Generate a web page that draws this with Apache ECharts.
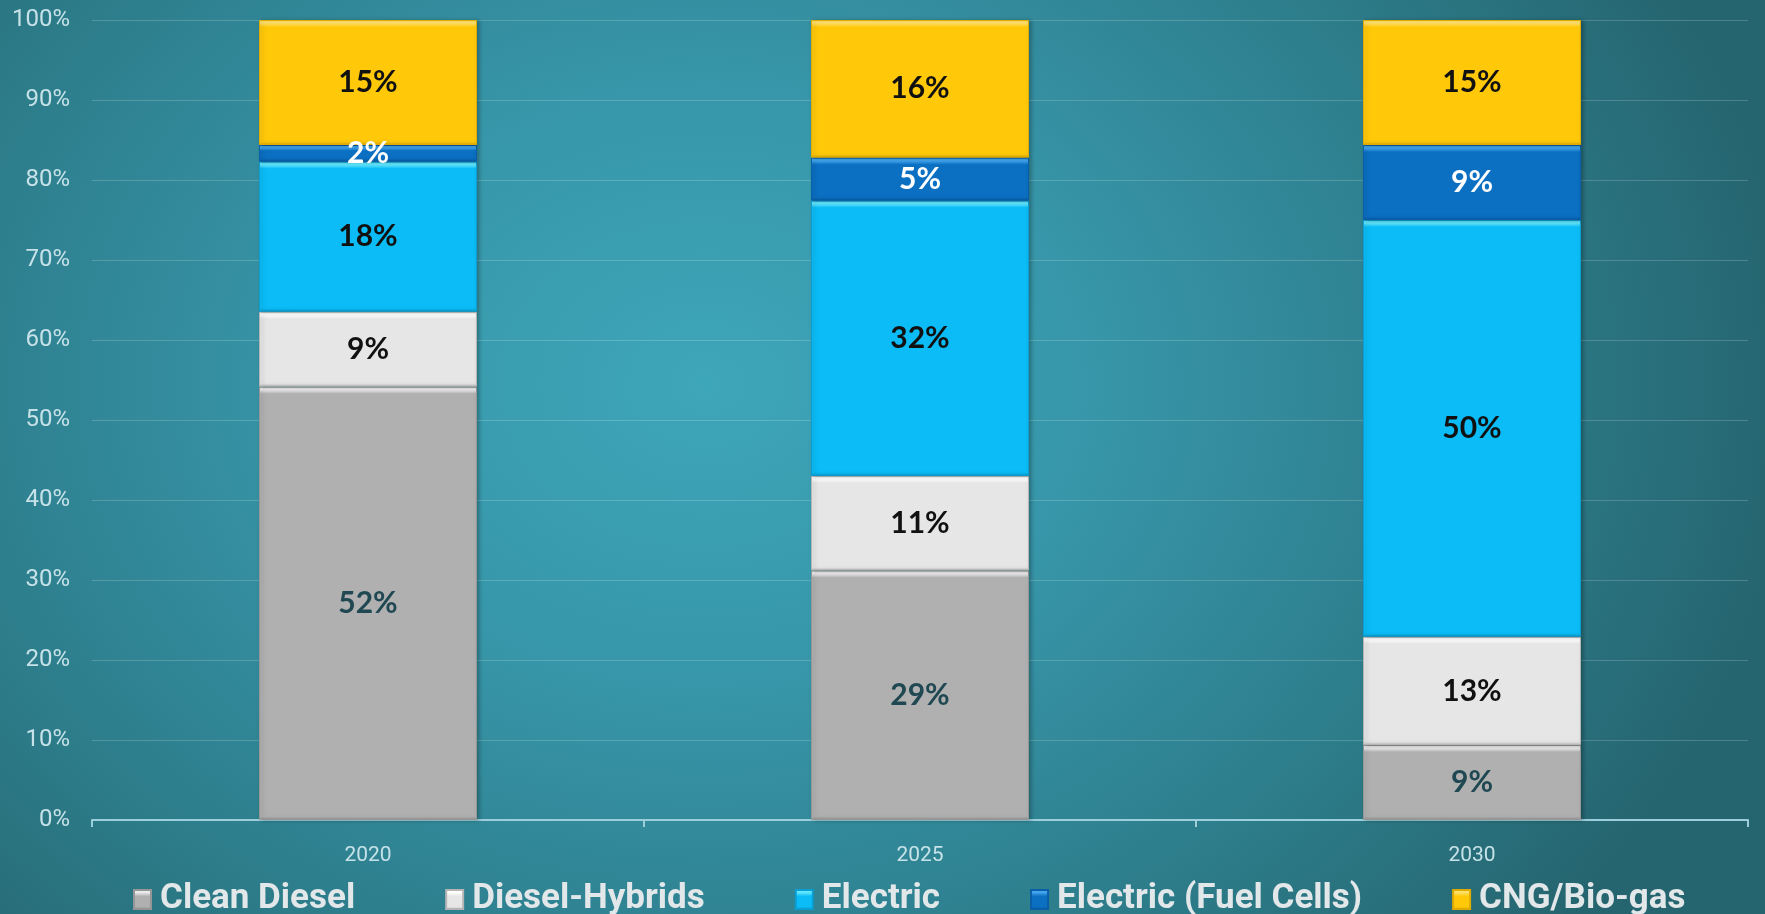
<!DOCTYPE html>
<html>
<head>
<meta charset="utf-8">
<script src="https://cdn.jsdelivr.net/npm/echarts@6/dist/echarts.min.js"></script>
<style>
  html, body { margin: 0; padding: 0; }
  body {
    width: 1765px; height: 914px; overflow: hidden;
    background: radial-gradient(ellipse 62% 95% at 40% 42%, #3ea6b9 0%, #3796a9 35%, #2d7d8b 70%, #25656f 100%);
  }
  #chart { width: 1765px; height: 914px; }
</style>
</head>
<body>
<div id="chart"></div>
<script>
// ---- data (raw values as labelled; bars are shown as 100% stacked) ----
const categories = ['2020', '2025', '2030'];
const seriesNames = ['Clean Diesel', 'Diesel-Hybrids', 'Electric', 'Electric (Fuel Cells)', 'CNG/Bio-gas'];
const cleanDiesel   = [52, 29, 9];
const dieselHybrids = [9, 11, 13];
const electric      = [18, 32, 50];
const fuelCells     = [2, 5, 9];
const cngBiogas     = [15, 16, 15];
const yTicks = [0, 10, 20, 30, 40, 50, 60, 70, 80, 90, 100];

const raw = [cleanDiesel, dieselHybrids, electric, fuelCells, cngBiogas];
const totals = categories.map((_, j) => raw.reduce((s, arr) => s + arr[j], 0));
const norm = raw.map(arr => arr.map((v, j) => v / totals[j] * 100));

// ---- styles ----
const palette = [
  { base: '#b0b0b0', hi: '#ececec', lo: '#8c8c8c', border: '#969696', label: '#1f4852' },
  { base: '#e6e6e6', hi: '#ffffff', lo: '#bdbdbd', border: '#b5b5b5', label: '#111111' },
  { base: '#0bbcf6', hi: '#62e8ff', lo: '#0a99cc', border: '#0a9ed2', label: '#111111' },
  { base: '#0b6fc2', hi: '#43a6ee', lo: '#07589e', border: '#0a5ea8', label: '#ffffff' },
  { base: '#ffc90a', hi: '#ffe06a', lo: '#d9a600', border: '#e0ab00', label: '#111111' }
];
const plotH = 800; // grid height in px, used for bevel band size

function bevel(p, hPx) {
  const f = Math.min(0.35, 7 / Math.max(hPx, 1));
  const g = Math.min(0.25, 3 / Math.max(hPx, 1));
  return {
    type: 'linear', x: 0, y: 0, x2: 0, y2: 1,
    colorStops: [
      { offset: 0, color: p.hi },
      { offset: f * 0.45, color: p.hi },
      { offset: f, color: p.base },
      { offset: 1 - g, color: p.base },
      { offset: 1, color: p.lo }
    ]
  };
}

const series = seriesNames.map((name, i) => {
  const p = palette[i];
  return {
    name: name,
    type: 'bar',
    stack: 'total',
    barWidth: 218,
    itemStyle: {
      color: bevel(p, 18),
      borderColor: p.border,
      borderWidth: 1,
      shadowColor: 'rgba(0,0,0,0.25)',
      shadowBlur: 4,
      shadowOffsetX: 2
    },
    label: {
      show: true,
      position: 'inside',
      fontFamily: 'Lato',
      fontWeight: 'bold',
      fontSize: 30,
      color: p.label,
      formatter: (prm) => raw[i][prm.dataIndex] + '%'
    },
    data: norm[i].map(v => ({
      value: v,
      itemStyle: { color: bevel(p, v / 100 * plotH) }
    }))
  };
});

const chart = echarts.init(document.getElementById('chart'), null, { renderer: 'canvas' });
chart.setOption({
  backgroundColor: 'transparent',
  animation: false,
  grid: { left: 92, right: 17, top: 20, bottom: 94 },
  legend: {
    left: 128,
    top: 877,
    icon: 'rect',
    itemWidth: 17,
    itemHeight: 19,
    itemGap: 90,
    textStyle: {
      fontFamily: 'Roboto',
      fontWeight: 'bold',
      fontSize: 35,
      color: '#e2e7e9',
      padding: [0, 0, 0, 4]
    },
    data: seriesNames
  },
  xAxis: {
    type: 'category',
    data: categories,
    axisLine: { show: true, lineStyle: { color: '#9ccfdb', width: 2 } },
    axisTick: { show: true, length: 7, lineStyle: { color: '#9ccfdb', width: 2 } },
    axisLabel: {
      margin: 25,
      fontFamily: 'Roboto',
      fontSize: 21,
      color: '#c6e2e8'
    },
    splitLine: { show: false }
  },
  yAxis: {
    type: 'value',
    min: yTicks[0],
    max: yTicks[yTicks.length - 1],
    interval: yTicks[1] - yTicks[0],
    axisLine: { show: false },
    axisTick: { show: false },
    axisLabel: {
      margin: 22,
      fontFamily: 'Roboto',
      fontSize: 24,
      color: '#c6e2e8',
      formatter: '{value}%'
    },
    splitLine: { show: true, lineStyle: { color: 'rgba(255,255,255,0.18)', width: 1 } }
  },
  series: series
});
</script>
</body>
</html>
